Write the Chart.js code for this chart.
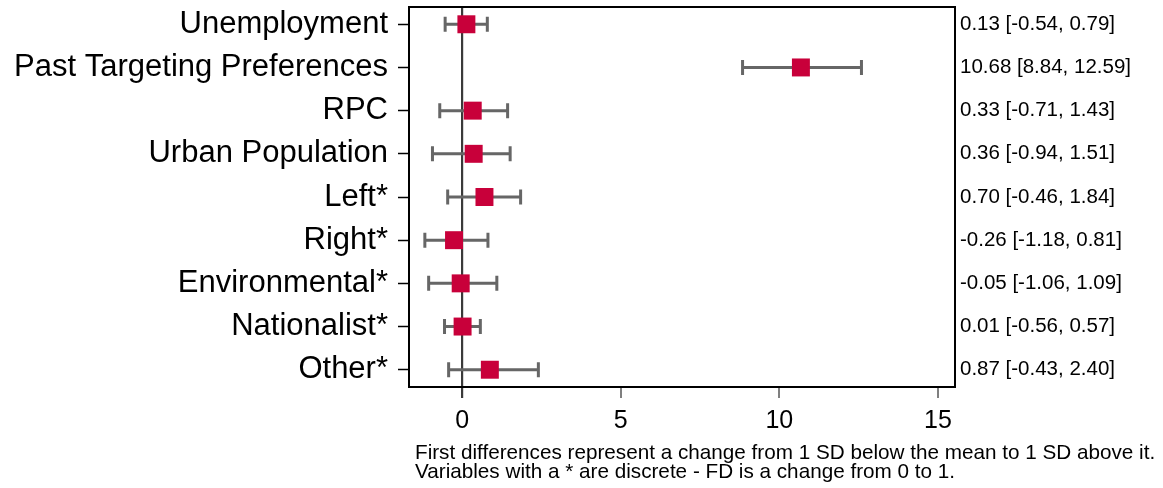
<!DOCTYPE html>
<html>
<head>
<meta charset="utf-8">
<script src="https://cdn.jsdelivr.net/npm/chart.js@4.4.1/dist/chart.umd.min.js"></script>
<style>
  html, body { margin: 0; padding: 0; background: #fff; }
  #wrap { width: 1163px; height: 488px; position: relative; }
</style>
</head>
<body>
<div id="wrap"><canvas id="c"></canvas></div>
<script>
const categories = ["Unemployment", "Past Targeting Preferences", "RPC", "Urban Population", "Left*", "Right*", "Environmental*", "Nationalist*", "Other*"];
const estimates = [0.13, 10.68, 0.33, 0.36, 0.70, -0.26, -0.05, 0.01, 0.87];
const lowerCI = [-0.54, 8.84, -0.71, -0.94, -0.46, -1.18, -1.06, -0.56, -0.43];
const upperCI = [0.79, 12.59, 1.43, 1.51, 1.84, 0.81, 1.09, 0.57, 2.40];
const xTicks = [0, 5, 10, 15];
const noteLines = [
  "First differences represent a change from 1 SD below the mean to 1 SD above it.",
  "Variables with a * are discrete - FD is a change from 0 to 1."
];

const fmt = v => v.toFixed(2);
const rightLabels = categories.map((c, i) => `${fmt(estimates[i])} [${fmt(lowerCI[i])}, ${fmt(upperCI[i])}]`);

const FONT = "'Liberation Sans', Arial, Helvetica, sans-serif";

const errorBarPlugin = {
  id: 'errorBars',
  beforeDatasetsDraw(chart) {
    const ctx = chart.ctx;
    const xs = chart.scales.x, ys = chart.scales.y;
    ctx.save();
    ctx.strokeStyle = '#666666';
    ctx.lineWidth = 3;
    ctx.lineCap = 'butt';
    const cap = 7.5;
    categories.forEach((c, i) => {
      const y = ys.getPixelForValue(i);
      const x1 = xs.getPixelForValue(lowerCI[i]);
      const x2 = xs.getPixelForValue(upperCI[i]);
      ctx.beginPath();
      ctx.moveTo(x1, y); ctx.lineTo(x2, y);
      ctx.moveTo(x1, y - cap); ctx.lineTo(x1, y + cap);
      ctx.moveTo(x2, y - cap); ctx.lineTo(x2, y + cap);
      ctx.stroke();
    });
    ctx.restore();
  },
  afterDraw(chart) {
    const ctx = chart.ctx;
    const a = chart.chartArea;
    ctx.save();
    ctx.strokeStyle = '#000';
    ctx.lineWidth = 2;
    ctx.strokeRect(a.left, a.top, a.right - a.left, a.bottom - a.top);
    ctx.fillStyle = '#000';
    ctx.font = `20.7px ${FONT}`;
    ctx.textBaseline = 'middle';
    ctx.textAlign = 'left';
    ctx.fillText(noteLines[0], 415, 453);
    ctx.fillText(noteLines[1], 415, 472);
    ctx.restore();
  }
};

const noPad = s => { s.paddingTop = 0; s.paddingBottom = 0; s.paddingLeft = 0; s.paddingRight = 0; };

new Chart(document.getElementById('c'), {
  type: 'scatter',
  data: {
    datasets: [{
      data: estimates.map((v, i) => ({ x: v, y: i })),
      pointStyle: 'rect',
      pointRadius: 12.7,
      pointHoverRadius: 12.7,
      backgroundColor: '#C8003A',
      borderColor: '#C8003A',
      borderWidth: 0
    }]
  },
  options: {
    responsive: true,
    maintainAspectRatio: false,
    animation: false,
    layout: { autoPadding: false, padding: { top: 7, right: 0, bottom: 0, left: 0 } },
    plugins: { legend: { display: false }, tooltip: { enabled: false } },
    scales: {
      x: {
        type: 'linear',
        min: -1.68,
        max: 15.54,
        afterBuildTicks: s => { s.ticks = xTicks.map(v => ({ value: v })); },
        afterFit: s => { s.height = 101; noPad(s); },
        border: { display: false },
        grid: {
          drawOnChartArea: true,
          color: c => (c.tick && c.tick.value === 0) ? '#3a3a3a' : 'rgba(0,0,0,0)',
          lineWidth: c => (c.tick && c.tick.value === 0) ? 2.2 : 0,
          tickColor: c => (c.tick && c.tick.value === 0) ? '#3a3a3a' : '#000',
          tickWidth: c => (c.tick && c.tick.value === 0) ? 2.2 : 1,
          tickLength: 11
        },
        ticks: {
          color: '#000',
          font: { family: FONT, size: 25 },
          padding: 8,
          maxRotation: 0,
          autoSkip: false
        }
      },
      y: {
        type: 'linear',
        position: 'left',
        reverse: true,
        min: -0.4,
        max: 8.4,
        afterBuildTicks: s => { s.ticks = categories.map((c, i) => ({ value: i })); },
        afterFit: s => { s.width = 409; noPad(s); },
        border: { display: false },
        grid: {
          drawOnChartArea: false,
          tickColor: '#000',
          tickWidth: 1.5,
          tickLength: 11
        },
        ticks: {
          color: '#000',
          font: { family: FONT, size: 31 },
          padding: 10,
          autoSkip: false,
          callback: (v) => categories[v]
        }
      },
      y2: {
        type: 'linear',
        position: 'right',
        reverse: true,
        min: -0.4,
        max: 8.4,
        afterBuildTicks: s => { s.ticks = rightLabels.map((c, i) => ({ value: i })); },
        afterFit: s => { s.width = 208; noPad(s); },
        border: { display: false },
        grid: { display: false, drawTicks: false },
        ticks: {
          color: '#000',
          font: { family: FONT, size: 20.5 },
          padding: 5,
          autoSkip: false,
          crossAlign: 'near',
          callback: (v) => rightLabels[v]
        }
      }
    }
  },
  plugins: [errorBarPlugin]
});
</script>
</body>
</html>
